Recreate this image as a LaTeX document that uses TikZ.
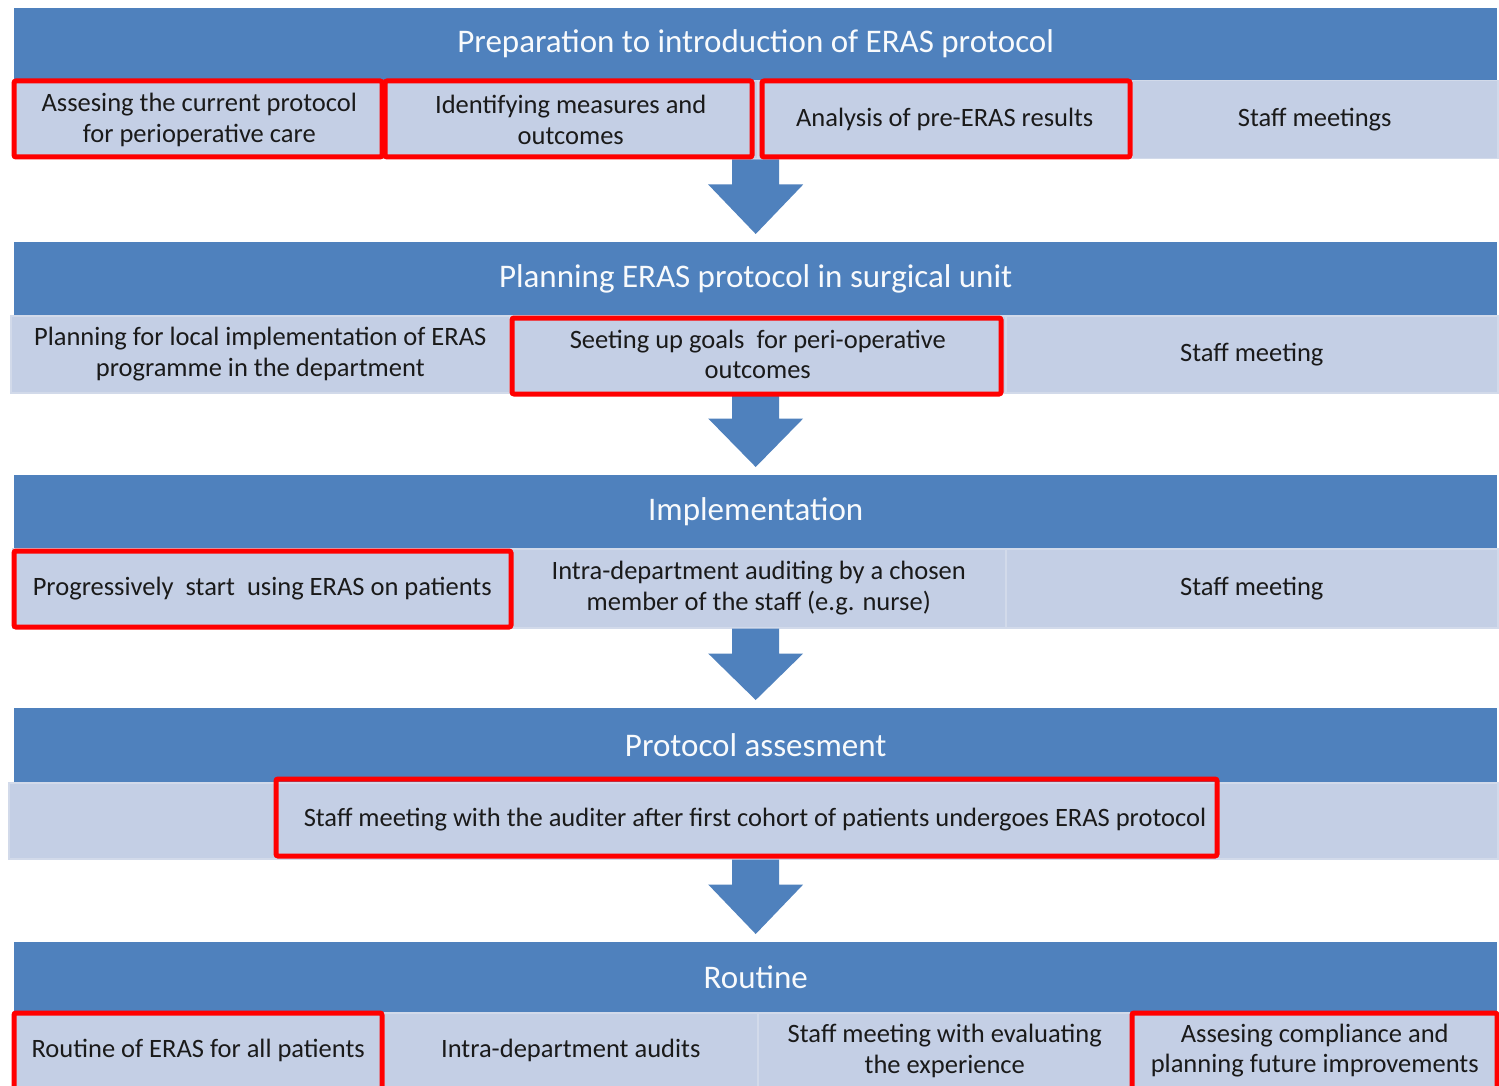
\documentclass[tikz,border=0pt]{standalone}
\usepackage{fontspec}
\setmainfont{Carlito}
\usetikzlibrary{calc}
\definecolor{hdrblue}{HTML}{4F81BD}
\definecolor{rowblue}{HTML}{C4CFE5}
\definecolor{sepblue}{HTML}{D2DAEA}
\definecolor{txtdark}{HTML}{1A1A1A}
\definecolor{hltred}{HTML}{FF0000}
\tikzset{
  hdr/.style={fill=hdrblue, draw=none, text=white!96!hdrblue,
    font=\fontsize{33}{38}\selectfont, inner sep=0pt, anchor=north west},
  cell/.style={fill=rowblue, draw=sepblue, line width=1.5pt, text=txtdark,
    font=\fontsize{26.5}{30.5}\selectfont, align=center, inner sep=0pt, anchor=north west},
  hilite/.style={draw=hltred, line width=5pt, rounded corners=2pt},
  blockarrow/.style={fill=hdrblue, draw=none},
}
% #1 row node (top of arrow), #2 header node below (tip)
\newcommand\blockarr[2]{%
  \fill[blockarrow] let \p1=(#2.north), \p2=(#1.south) in
    (\x1-23.5pt,\y2) -- (\x1+23.5pt,\y2) -- (\x1+23.5pt,\y2-25pt)
    -- (\x1+47.5pt,\y2-25pt) -- (\x1,\y1+8pt) -- (\x1-47.5pt,\y2-25pt)
    -- (\x1-23.5pt,\y2-25pt) -- cycle;}
\begin{document}
\begin{tikzpicture}[x=1pt,y=-1pt]
\useasboundingbox (0,0) rectangle (1499,1086);
\fill[white] (0,0) rectangle (1499,1086);

% ---------- Section 1
\node[hdr, minimum width=1483pt, minimum height=72pt] (h1) at (14,8)
  {Preparation to introduction of ERAS protocol};
\node[cell, minimum width=369pt, minimum height=78pt] (a1) at (14,80)
  {Assesing the current protocol\\for perioperative care};
\node[cell, minimum width=374pt, minimum height=78pt] (a2) at (383,80)
  {Identifying measures and\\outcomes};
\node[cell, minimum width=374pt, minimum height=78pt] (a3) at (757,80)
  {Analysis of pre-ERAS results};
\node[cell, minimum width=366pt, minimum height=78pt] (a4) at (1131,80)
  {Staff meetings};

% ---------- Section 2
\node[hdr, minimum width=1483pt, minimum height=73pt] (h2) at (14,242)
  {Planning ERAS protocol in surgical unit};
\node[cell, minimum width=499pt, minimum height=77pt] (b1) at (10,315)
  {Planning for local implementation of ERAS\\programme in the department};
\node[cell, minimum width=496pt, minimum height=77pt] (b2) at (509,315)
  {Seeting up goals\ \ for peri-operative\\outcomes};
\node[cell, minimum width=492pt, minimum height=77pt] (b3) at (1005,315)
  {Staff meeting};

% ---------- Section 3
\node[hdr, minimum width=1483pt, minimum height=73pt] (h3) at (14,475)
  {Implementation};
\node[cell, minimum width=499pt, minimum height=79pt] (c1) at (12,548)
  {Progressively\ \ start\ \ using ERAS on patients};
\node[cell, minimum width=494pt, minimum height=79pt] (c2) at (511,548)
  {Intra-department auditing by a chosen\\member of the staff (e.g. nurse)};
\node[cell, minimum width=492pt, minimum height=79pt] (c3) at (1005,548)
  {Staff meeting};

% ---------- Section 4
\node[hdr, minimum width=1483pt, minimum height=74pt] (h4) at (14,708)
  {Protocol assesment};
\node[cell, minimum width=1489pt, minimum height=76pt] (d1) at (8,782) {};
\node[font=\fontsize{26.5}{30.5}\selectfont, text=txtdark, inner sep=0pt] (d1t) at (755,820)
  {Staff meeting with the auditer after first cohort of patients undergoes ERAS protocol};

% ---------- Section 5
\node[hdr, minimum width=1483pt, minimum height=70pt] (h5) at (14,942)
  {Routine};
\node[cell, minimum width=371pt, minimum height=76pt] (e1) at (12,1012)
  {Routine of ERAS for all patients};
\node[cell, minimum width=374pt, minimum height=76pt] (e2) at (383,1012)
  {Intra-department audits};
\node[cell, minimum width=374pt, minimum height=76pt] (e3) at (757,1012)
  {Staff meeting with evaluating\\the experience};
\node[cell, minimum width=366pt, minimum height=76pt] (e4) at (1131,1012)
  {Assesing compliance and\\planning future improvements};

% ---------- Arrows
\blockarr{a3}{h2}
\blockarr{b2}{h3}
\blockarr{c2}{h4}
\blockarr{d1}{h5}

% ---------- Highlights
\draw[hilite] (14,81) rectangle (382,157);
\draw[hilite] (385,81) rectangle (752,157);
\draw[hilite] (762,81) rectangle (1130,157);
\draw[hilite] (512,318) rectangle (1001,394);
\draw[hilite] (14,551) rectangle (511,627);
\draw[hilite] (276,779) rectangle (1217,856);
\draw[hilite] (14,1013) rectangle (382,1092);
\draw[hilite] (1132,1013) rectangle (1497,1092);
\end{tikzpicture}
\end{document}
